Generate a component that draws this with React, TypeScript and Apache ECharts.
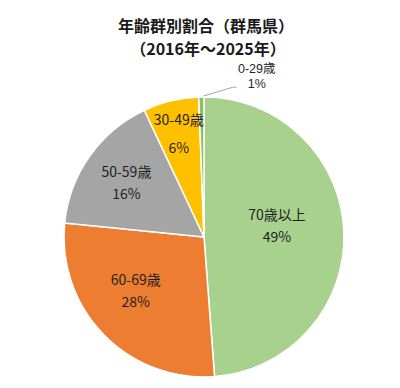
import React, { useEffect, useRef } from "react";
import * as echarts from "echarts";

const categories = ["70歳以上", "60-69歳", "50-59歳", "30-49歳", "0-29歳"];
const shares = [48.8, 27.8, 16.4, 6.4, 0.6];
const colors = ["#A9D18E", "#ED7D31", "#A5A5A5", "#FFC000", "#8DBF6A"];
const titleLines = ["年齢群別割合（群馬県）", "（2016年～2025年）"];

// label nudges relative to the library's default inside position (style only)
const labelShift: [number, number][] = [
  [0, -9],
  [-16, 2],
  [-18, -13],
  [-8, -33],
];

const FONT = '"Noto Sans CJK JP", "Noto Sans", sans-serif';
const TIGHT_FONT = '"Liberation Sans", "Noto Sans CJK JP", sans-serif';

export default function App() {
  const ref = useRef<HTMLDivElement>(null);
  useEffect(() => {
    if (!ref.current) return;
    const chart = echarts.init(ref.current, undefined, { renderer: "svg" });
    const data = categories.map((name, i) => {
      const item: any = { name, value: shares[i], itemStyle: { color: colors[i] } };
      if (i === 3) item.label = { lineHeight: 28 };
      if (i === 4) {
        item.label = {
          position: "outside",
          fontFamily: TIGHT_FONT,
          fontSize: 12.5,
          lineHeight: 15,
          color: "#262626",
        };
        item.labelLine = {
          show: true,
          lineStyle: { color: "#A6A6A6", width: 1 },
        };
      }
      return item;
    });
    chart.setOption({
      animation: false,
      backgroundColor: "#ffffff",
      graphic: [
        {
          type: "text",
          x: 206,
          y: 25,
          style: {
            text: titleLines[0],
            font: `bold 16px ${FONT}`,
            fill: "#1a1a1a",
            textAlign: "center",
            textVerticalAlign: "middle",
          },
        },
        {
          type: "text",
          x: 208,
          y: 48,
          style: {
            text: titleLines[1],
            font: `bold 16px ${FONT}`,
            fill: "#1a1a1a",
            textAlign: "center",
            textVerticalAlign: "middle",
          },
        },
      ],
      series: [
        {
          type: "pie",
          center: [204, 237],
          radius: 140,
          startAngle: 90,
          clockwise: true,
          avoidLabelOverlap: false,
          itemStyle: { borderColor: "#ffffff", borderWidth: 1.5 },
          label: {
            show: true,
            position: "inside",
            fontFamily: FONT,
            fontSize: 14,
            lineHeight: 22,
            color: "#1f1f1f",
            formatter: (p: any) => `${p.name}\n${Math.round(p.value)}%`,
          },
          labelLine: { show: false },
          labelLayout: (p: any) => {
            const i = p.dataIndex;
            const lr = p.labelRect;
            const r = p.rect;
            if (i === 4) {
              const x0 = r.x + r.width - 2;
              const y0 = r.y;
              return {
                x: x0 + 54,
                y: y0 - 20,
                align: "center",
                verticalAlign: "middle",
                labelLinePoints: [
                  [x0, y0],
                  [x0 + 30, y0 - 9],
                  [x0 + 34, y0 - 9],
                ],
              };
            }
            const s = labelShift[i];
            return {
              x: lr.x + lr.width / 2 + s[0],
              y: lr.y + lr.height / 2 + s[1],
              align: "center",
              verticalAlign: "middle",
            };
          },
          data,
        },
      ],
    });
    return () => chart.dispose();
  }, []);
  return (
    <div
      ref={ref}
      style={{ position: "absolute", left: 0, top: 0, width: 400, height: 388 }}
    />
  );
}
